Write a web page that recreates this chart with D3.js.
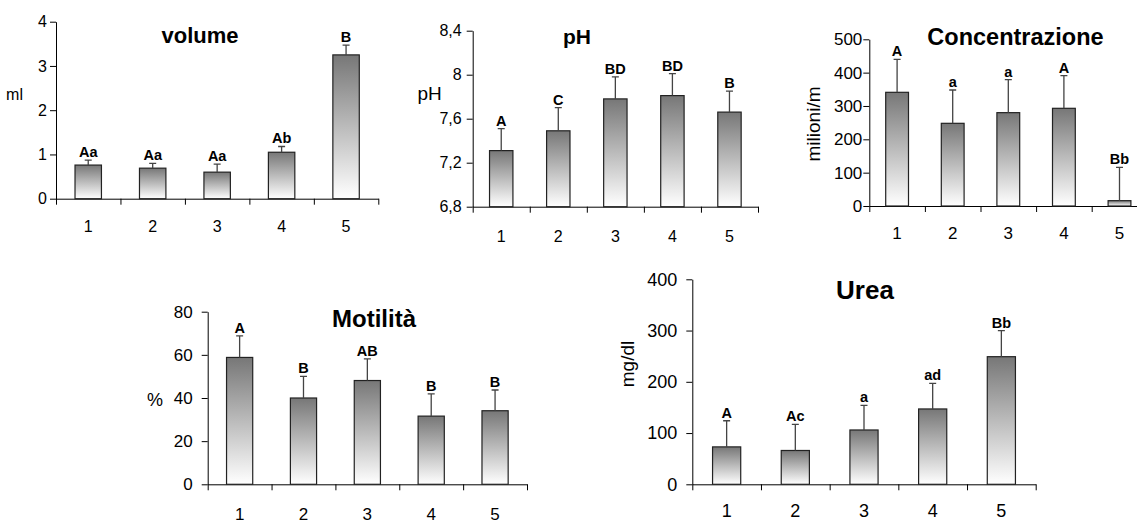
<!DOCTYPE html>
<head>
    <meta charset="utf-8">
    <script src="https://d3js.org/d3.v7.min.js"></script>
    <style>
        body { margin: 0; background: #fff; }
        svg { display: block; font-family: Arial, "Liberation Sans", Helvetica, sans-serif; }
        .domain, .tick line { stroke: #000; }
    </style>
</head>
<body>
<svg id="svg" width="1137" height="523"></svg>
<script>
// groups on the x axis
const groups = ["1", "2", "3", "4", "5"];

// volume (ml)
const volumeMean = [0.76, 0.69, 0.60, 1.05, 3.25];
const volumeSd = [0.11, 0.11, 0.18, 0.13, 0.22];
const volumeLetters = ["Aa", "Aa", "Aa", "Ab", "B"];
const volumeTicks = [0, 1, 2, 3, 4];

// pH
const phMean = [7.31, 7.49, 7.78, 7.81, 7.66];
const phSd = [0.20, 0.21, 0.20, 0.20, 0.19];
const phLetters = ["A", "C", "BD", "BD", "B"];
const phTicks = [6.8, 7.2, 7.6, 8, 8.4];

// concentrazione (milioni/ml)
const concMean = [341, 248, 280, 293, 16];
const concSd = [99, 100, 99, 98, 100];
const concLetters = ["A", "a", "a", "A", "Bb"];
const concTicks = [0, 100, 200, 300, 400, 500];

// motilita (%)
const motMean = [58.8, 40, 48.1, 31.6, 34.1];
const motSd = [10, 10, 10, 10.3, 9.6];
const motLetters = ["A", "B", "AB", "B", "B"];
const motTicks = [0, 20, 40, 60, 80];

// urea (mg/dl)
const ureaMean = [73, 66, 106, 147, 249];
const ureaSd = [51, 51, 48, 50, 51];
const ureaLetters = ["A", "Ac", "a", "ad", "Bb"];
const ureaTicks = [0, 100, 200, 300, 400];

const svg = d3.select("#svg");

const grad = svg.append("defs").append("linearGradient")
    .attr("id", "barGrad").attr("x1", 0).attr("y1", 0).attr("x2", 0).attr("y2", 1);
grad.append("stop").attr("offset", "0%").attr("stop-color", "#777");
grad.append("stop").attr("offset", "100%").attr("stop-color", "#fff");

const fmtComma = d => String(d).replace(".", ",");

const panels = [
    { title: "volume", mean: volumeMean, sd: volumeSd, letters: volumeLetters, ticks: volumeTicks,
      domain: [0, 4], x0: 56, x1: 378.3, yTop: 21.7, yBot: 198.7, fs: 16, pad: 3,
      titleX: 200, titleY: 43, titleFs: 22,
      ylab: "ml", ylabX: 14.5, ylabY: 100, ylabFs: 16, rot: false, labY: 232 },
    { title: "pH", mean: phMean, sd: phSd, letters: phLetters, ticks: phTicks,
      domain: [6.8, 8.4], x0: 472.7, x1: 758, yTop: 30.7, yBot: 206.7, fs: 16, pad: 5, fmt: fmtComma,
      titleX: 577, titleY: 44, titleFs: 21,
      ylab: "pH", ylabX: 429.7, ylabY: 100, ylabFs: 19, rot: false, labY: 242 },
    { title: "Concentrazione", mean: concMean, sd: concSd, letters: concLetters, ticks: concTicks,
      domain: [0, 500], x0: 869.3, x1: 1147.3, yTop: 39.3, yBot: 206, fs: 17, pad: 1,
      titleX: 1015.5, titleY: 45, titleFs: 23.5,
      ylab: "milioni/m", ylabX: 820, ylabY: 124, ylabFs: 19, rot: true, labY: 239 },
    { title: "Motilità", mean: motMean, sd: motSd, letters: motLetters, ticks: motTicks,
      domain: [0, 80], x0: 207.7, x1: 527, yTop: 311.7, yBot: 484.3, fs: 17, pad: 9, yAxisColor: "#808080",
      titleX: 374, titleY: 326.7, titleFs: 24,
      ylab: "%", ylabX: 155, ylabY: 406, ylabFs: 18, rot: false, labY: 520 },
    { title: "Urea", mean: ureaMean, sd: ureaSd, letters: ureaLetters, ticks: ureaTicks,
      domain: [0, 400], x0: 692.3, x1: 1035.7, yTop: 279.3, yBot: 484.3, fs: 18, pad: 9,
      titleX: 865, titleY: 299.3, titleFs: 26,
      ylab: "mg/dl", ylabX: 634, ylabY: 364, ylabFs: 19, rot: true, labY: 517 }
];

panels.forEach(p => {
    const g = svg.append("g");
    const y = d3.scaleLinear().domain(p.domain).range([p.yBot, p.yTop]);
    const xb = d3.scaleBand().domain(groups).range([p.x0, p.x1]).paddingInner(0.59).paddingOuter(0.295);
    const xl = d3.scaleLinear().domain([0, groups.length]).range([p.x0, p.x1]);

    // x axis: ticks between the groups
    g.append("g").attr("transform", `translate(0,${p.yBot})`)
        .call(d3.axisBottom(xl).tickValues(d3.range(groups.length + 1)).tickSize(6).tickSizeOuter(0).tickFormat(""));
    // group labels
    g.selectAll(".xlab").data(groups).join("text")
        .attr("x", d => xb(d) + xb.bandwidth() / 2)
        .attr("y", p.labY)
        .attr("text-anchor", "middle")
        .attr("font-size", p.fs)
        .text(d => d);

    // y axis
    const ya = g.append("g").attr("transform", `translate(${p.x0},0)`)
        .call(d3.axisLeft(y).tickValues(p.ticks).tickSize(6).tickSizeOuter(0).tickPadding(p.pad)
            .tickFormat(p.fmt || (d => d)));
    ya.selectAll("text").attr("font-size", p.fs).attr("fill", "#000").attr("font-family", null);
    if (p.yAxisColor) ya.selectAll(".domain, .tick line").attr("stroke", p.yAxisColor);

    // bars
    g.selectAll(".bar").data(p.mean).join("rect")
        .attr("x", (d, i) => xb(groups[i]))
        .attr("y", d => y(d))
        .attr("width", xb.bandwidth())
        .attr("height", d => p.yBot - y(d))
        .attr("fill", "url(#barGrad)")
        .attr("stroke", "#222")
        .attr("stroke-width", 1.2);

    // error bars (upper only)
    const cx = i => xb(groups[i]) + xb.bandwidth() / 2;
    g.selectAll(".err").data(p.mean).join("path")
        .attr("d", (d, i) => `M${cx(i)},${y(d)}V${y(d + p.sd[i])}M${cx(i) - 3.5},${y(d + p.sd[i])}H${cx(i) + 3.5}`)
        .attr("stroke", "#444")
        .attr("stroke-width", 1.3)
        .attr("fill", "none");

    // letters
    g.selectAll(".let").data(p.mean).join("text")
        .attr("x", (d, i) => cx(i))
        .attr("y", (d, i) => y(d + p.sd[i]) - 3)
        .attr("text-anchor", "middle")
        .attr("font-size", 14.5)
        .attr("font-weight", "bold")
        .text((d, i) => p.letters[i]);

    // title
    g.append("text")
        .attr("x", p.titleX).attr("y", p.titleY)
        .attr("text-anchor", "middle")
        .attr("font-size", p.titleFs)
        .attr("font-weight", "bold")
        .text(p.title);

    // y label
    const yl = g.append("text")
        .attr("text-anchor", "middle")
        .attr("font-size", p.ylabFs)
        .text(p.ylab);
    if (p.rot) yl.attr("transform", `translate(${p.ylabX},${p.ylabY}) rotate(-90)`);
    else yl.attr("x", p.ylabX).attr("y", p.ylabY);
});
</script>
</body>
